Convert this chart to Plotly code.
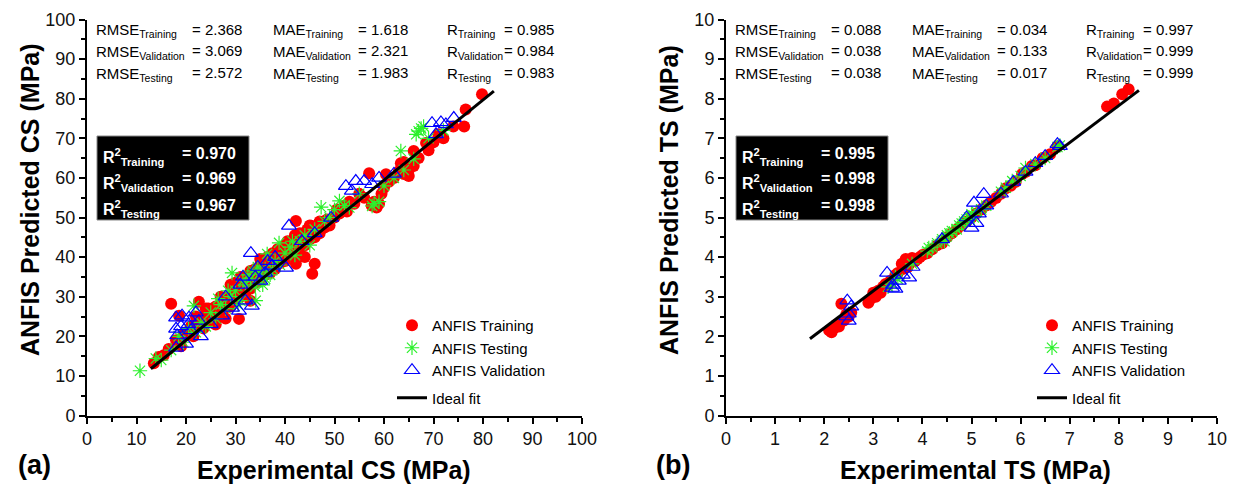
import plotly.graph_objects as go

W, H = 1237, 492
def px(x): return x / W
def py(y): return 1 - y / H

FONT = "Liberation Sans, Arial, sans-serif"

# ---------------- Panel (a): CS ----------------
a_train_x = [13.5, 14.5, 15.5, 16.5, 17, 18, 18.6, 19, 19.5, 20, 21, 21.5, 22.6, 22, 23, 23.5, 24, 24.5, 25, 25.5,
             26, 26.5, 27, 27.5, 28, 28, 28.5, 29, 29.5, 30, 30.5, 30.7, 31, 31.5, 32, 32.5, 33, 33, 33.5, 34,
             34.5, 35, 35.5, 36, 36.5, 37, 37.5, 38, 38.5, 39, 39.5, 40, 40.5, 41, 41.5, 42, 42.2, 42.2, 42.5, 43,
             43.5, 44, 44.5, 45, 45.3, 45.5, 46, 46, 46.5, 47, 47.5, 48, 48.5, 49, 50, 50.5, 51, 52, 52.5, 53,
             54, 55, 56, 57, 57.5, 58, 58.5, 59, 59.5, 60, 60.4, 61, 62, 63, 63.4, 64.4, 64, 65, 66, 66,
             67, 68.5, 69, 70, 71, 72, 74, 76.2, 76.5, 79.8, 65, 64, 29, 35, 39, 44, 26, 31,
             27, 29.5, 32, 34, 36.5, 38.5, 40.5, 43, 45, 47, 30, 33, 36, 40, 42, 44.5, 24, 22, 35, 37.5]
a_train_y = [13.2, 14.8, 15.2, 16.8, 28.2, 19, 25.2, 17.5, 20.5, 21, 22.5, 20, 28.7, 23, 24.5, 22, 25.5, 27, 24, 26,
             27.5, 25, 28, 26.5, 29.5, 24.5, 30, 27.5, 31, 29, 32, 24.4, 30, 33, 31, 34, 32, 29, 35, 33.5,
             36, 34, 37, 35.5, 38, 36, 39, 37, 40, 38.5, 41, 39, 42, 40.5, 43, 41, 38.3, 49.1, 44, 42,
             45, 43, 46, 44.5, 47.9, 35.8, 38.3, 45, 47, 46, 48, 47.5, 49.5, 48, 50, 52, 51, 53, 51.5, 54,
             53.5, 56, 55, 61.2, 53, 54, 52.5, 53.5, 56, 57.5, 60.9, 59, 60, 61.7, 63.7, 61.7, 64, 62, 66.8, 63,
             65, 68.8, 67, 69, 71, 70, 73, 73, 77.3, 81.1, 60.5, 61, 33, 38, 42, 40, 23, 35,
             30, 33, 35, 37, 40, 42, 44, 46, 48, 49, 33.5, 36.5, 39, 43, 45.5, 47, 27, 25, 39.5, 41]

a_test_x = [10.7, 13.9, 15, 17, 18.5, 19.5, 20.5, 21.6, 22, 23, 24, 25, 26, 27, 28, 29, 29.3, 30, 31, 32,
            33, 34, 34.1, 35, 36, 36.4, 37, 38, 38.8, 39, 40, 41, 42, 43, 44, 45, 46, 47.3, 48, 49,
            50, 51, 52, 53, 55, 57.6, 58, 59, 60, 62, 63.4, 64, 66, 67, 67.5, 66.5, 68, 69, 72, 31.5,
            33.5, 35.5, 37.5, 30.5, 32.5, 34.5, 36, 28.5, 26.5, 41.5]
a_test_y = [11.3, 14.4, 14, 16.5, 20, 18.5, 22, 27.7, 21, 23.5, 22.5, 26, 24.5, 28, 27, 30, 36, 31.5, 29, 33,
            34.5, 32.5, 29, 36, 37, 40.8, 35.5, 39, 43.6, 38, 41, 42.5, 40.5, 44, 45.5, 43, 47, 52.6, 49, 50,
            52, 54.2, 53, 52.5, 56, 52.9, 53.5, 54, 58, 60, 66.8, 62, 64.8, 71.8, 72.5, 71, 73, 70, 72, 34,
            36.5, 33, 37, 28, 35.5, 37.5, 34.5, 31.5, 29.5, 44]

a_val_x = [18, 19.2, 20.6, 18, 18.2, 18, 20, 22.6, 19, 21, 22, 23, 27.3, 29.3, 30.7, 33.3, 31, 33.1, 34, 35,
           36, 37.4, 40.2, 40.8, 43.4, 46, 49.3, 52.3, 53.5, 54.3, 56, 57.6, 59, 62, 69.7, 70.5, 72.5, 74.1, 71.5, 25,
           28, 32, 20.5, 38, 34.5, 36.5, 31.5]
a_val_y = [24.7, 25.2, 24.7, 21.9, 20.2, 17.1, 18.1, 23.9, 22.5, 21.5, 26, 20, 25.2, 27.2, 26.4, 27.7, 33, 41, 35, 34,
           36, 37.8, 37.3, 47.9, 44, 46, 49.9, 57.9, 56.7, 59.2, 59.2, 58.4, 60, 61, 73.8, 71, 73.5, 75.1, 74, 23,
           30, 29, 23, 40, 37.5, 39, 35]

a_fit_x = [12.9, 82.2]
a_fit_y = [11.8, 81.9]

# ---------------- Panel (b): TS ----------------
b_train_x = [2.15, 2.2, 2.25, 2.3, 2.35, 2.4, 2.45, 2.5, 2.55, 2.95, 3.0, 3.05, 3.1, 3.15, 3.2, 3.3, 3.35, 3.45, 3.5, 3.58,
             3.6, 3.7, 3.75, 3.79, 3.85, 3.9, 3.95, 4.0, 4.1, 4.2, 4.3, 4.4, 4.5, 4.6, 4.7, 4.8, 4.9, 5.0, 5.1, 5.2,
             5.3, 5.4, 5.5, 5.6, 5.7, 5.8, 5.9, 6.03, 6.1, 6.23, 6.3, 6.45, 6.6, 6.75, 7.76, 7.9, 8.07, 8.2, 2.1, 2.9,
             3.25, 3.66]
b_train_y = [2.1, 2.2, 2.3, 2.25, 2.82, 2.4, 2.55, 2.5, 2.6, 2.95, 3.1, 3.0, 3.15, 3.1, 3.25, 3.3, 3.4, 3.55, 3.6, 3.83,
             3.7, 3.75, 3.85, 3.98, 3.9, 3.95, 4.0, 4.05, 4.1, 4.2, 4.3, 4.35, 4.5, 4.6, 4.7, 4.8, 4.9, 5.0, 5.1, 5.2,
             5.3, 5.4, 5.49, 5.6, 5.74, 5.8, 5.9, 6.1, 6.15, 6.3, 6.32, 6.5, 6.6, 6.8, 7.8, 7.88, 8.11, 8.24, 2.15, 2.85,
             3.32, 3.95]

b_test_x = [3.3, 3.38, 3.45, 3.79, 3.5, 4.1, 4.13, 4.2, 4.3, 4.4, 4.5, 4.6, 4.7, 4.8, 4.9, 5.0, 5.05, 5.1, 5.2, 5.6,
            5.7, 5.83, 6.0, 6.1, 6.3, 6.5, 6.75, 6.8, 4.45, 4.55, 4.75, 4.85, 4.95, 5.3]
b_test_y = [3.25, 3.32, 3.5, 3.83, 3.45, 4.15, 4.23, 4.25, 4.35, 4.45, 4.55, 4.66, 4.7, 4.85, 4.95, 5.08, 5.0, 5.15, 5.2, 5.65,
            5.75, 5.92, 6.05, 6.25, 6.35, 6.5, 6.78, 6.82, 4.4, 4.6, 4.8, 4.9, 5.0, 5.3]

b_val_x = [2.47, 2.5, 2.5, 2.55, 2.45, 3.28, 3.38, 3.73, 3.52, 3.4, 3.45, 3.6, 3.8, 4.4, 4.9, 5.05, 5.25, 5.0, 5.1, 5.15,
           5.3, 5.6, 5.85, 6.3, 6.5, 6.75, 6.8, 6.1]
b_val_y = [2.9, 2.57, 2.39, 2.75, 2.5, 3.6, 3.22, 3.48, 3.4, 3.3, 3.2, 3.55, 3.75, 4.45, 5.0, 5.37, 5.59, 4.74, 4.86, 5.1,
           5.3, 5.6, 5.9, 6.37, 6.55, 6.85, 6.8, 6.15]

b_fit_x = [1.71, 8.41]
b_fit_y = [1.94, 8.21]

# ---------------- text values ----------------
stat_sets = ["Training", "Validation", "Testing"]
a_rmse = ["2.368", "3.069", "2.572"]
a_mae = ["1.618", "2.321", "1.983"]
a_r = ["0.985", "0.984", "0.983"]
a_r2 = ["0.970", "0.969", "0.967"]
b_rmse = ["0.088", "0.038", "0.038"]
b_mae = ["0.034", "0.133", "0.017"]
b_r = ["0.997", "0.999", "0.999"]
b_r2 = ["0.995", "0.998", "0.998"]

RED, GREEN, BLUE = "#ff0000", "#2cf02c", "#0000ff"

fig = go.Figure()

def add_panel(xa, ya, leg, trx, tr_y, tex, tey, vax, vay, fx, fy):
    fig.add_trace(go.Scatter(x=trx, y=tr_y, mode="markers", name="ANFIS Training",
                             marker=dict(symbol="circle", size=12, color=RED, line=dict(width=0)),
                             xaxis=xa, yaxis=ya, legend=leg, legendgroup="pts" + leg))
    fig.add_trace(go.Scatter(x=tex, y=tey, mode="markers", name="ANFIS Testing",
                             marker=dict(symbol="asterisk-open", size=12, color=GREEN, line=dict(width=1.2, color=GREEN)),
                             xaxis=xa, yaxis=ya, legend=leg, legendgroup="pts" + leg))
    fig.add_trace(go.Scatter(x=vax, y=vay, mode="markers", name="ANFIS Validation",
                             marker=dict(symbol="triangle-up-open", size=13, color=BLUE, line=dict(width=1.2, color=BLUE)),
                             xaxis=xa, yaxis=ya, legend=leg, legendgroup="pts" + leg))
    fig.add_trace(go.Scatter(x=fx, y=fy, mode="lines", name="Ideal fit",
                             line=dict(color="black", width=3),
                             xaxis=xa, yaxis=ya, legend=leg, legendgroup="fit" + leg))

add_panel("x", "y", "legend", a_train_x, a_train_y, a_test_x, a_test_y, a_val_x, a_val_y, a_fit_x, a_fit_y)
add_panel("x2", "y2", "legend2", b_train_x, b_train_y, b_test_x, b_test_y, b_val_x, b_val_y, b_fit_x, b_fit_y)

def axis_style(rng, dtick, minor, domain, anchor):
    return dict(range=rng, dtick=dtick, tick0=0, domain=domain, anchor=anchor, automargin=False,
                showline=True, linecolor="black", linewidth=2,
                ticks="outside", ticklen=6, tickwidth=2, tickcolor="black",
                minor=dict(dtick=minor, ticks="outside", ticklen=4, tickwidth=2, tickcolor="black"),
                showgrid=False, zeroline=False, fixedrange=True,
                tickfont=dict(family=FONT, size=18, color="#111"))

ydom = [py(415.5), py(19.5)]
legend_common = dict(font=dict(family=FONT, size=15, color="black"), bgcolor="rgba(0,0,0,0)",
                     traceorder="grouped", tracegroupgap=5, xanchor="left", yanchor="top",
                     itemwidth=30)

fig.update_layout(
    template="none",
    width=W, height=H, margin=dict(l=0, r=0, t=0, b=0, autoexpand=False),
    paper_bgcolor="white", plot_bgcolor="white",
    font=dict(family=FONT, color="black"),
    xaxis=axis_style([0, 100], 10, 5, [px(87), px(582)], "y"),
    yaxis=axis_style([0, 100], 10, 5, ydom, "x"),
    xaxis2=axis_style([0, 10], 1, 0.5, [px(726), px(1217)], "y2"),
    yaxis2=axis_style([0, 10], 1, 0.5, ydom, "x2"),
    legend=dict(x=px(392), y=py(309), **legend_common),
    legend2=dict(x=px(1032), y=py(309), **legend_common),
)

ann = []
def text(x, y, t, size=15, bold=False, color="black", xanchor="left", angle=0):
    ann.append(dict(x=px(x), y=py(y), xref="paper", yref="paper", text=t, showarrow=False,
                    xanchor=xanchor, yanchor="middle", textangle=angle,
                    font=dict(family=FONT, size=size, color=color, weight="bold" if bold else "normal")))

def stats_block(off, rmse, mae, r, r2):
    rows = [29, 50.5, 72]
    for i, s in enumerate(stat_sets):
        text(94 + off, rows[i] + 2, f"RMSE<sub>{s}</sub>")
        text(190 + off, rows[i], f"= {rmse[i]}")
        text(271 + off, rows[i] + 2, f"MAE<sub>{s}</sub>")
        text(356 + off, rows[i], f"= {mae[i]}")
        text(445 + off, rows[i] + 2, f"R<sub>{s}</sub>")
        text(502 + off, rows[i], f"= {r[i]}")
    fig.add_shape(type="rect", xref="paper", yref="paper",
                  x0=px(97 + off), x1=px(249 + off), y0=py(220), y1=py(136),
                  fillcolor="black", line=dict(color="#888", width=1))
    rrows = [157, 183, 209]
    for i, s in enumerate(stat_sets):
        text(101 + off, rrows[i], f"R<sup>2</sup><sub>{s}</sub>", size=16, bold=True, color="white")
        text(180 + off, rrows[i] - 4, f"= {r2[i]}", size=16, bold=True, color="white")

stats_block(0, a_rmse, a_mae, a_r, a_r2)
stats_block(639, b_rmse, b_mae, b_r, b_r2)

text(334, 470, "Experimental CS (MPa)", size=25, bold=True, xanchor="center")
text(975, 470, "Experimental TS (MPa)", size=25, bold=True, xanchor="center")
text(30, 200, "ANFIS Predicted CS (MPa)", size=25, bold=True, xanchor="center", angle=-90)
text(669, 200, "ANFIS Predicted TS (MPa)", size=25, bold=True, xanchor="center", angle=-90)
text(16, 465, "(a)", size=27, bold=True)
text(654, 465, "(b)", size=27, bold=True)

fig.update_layout(annotations=ann)
fig.write_html("out.html")
